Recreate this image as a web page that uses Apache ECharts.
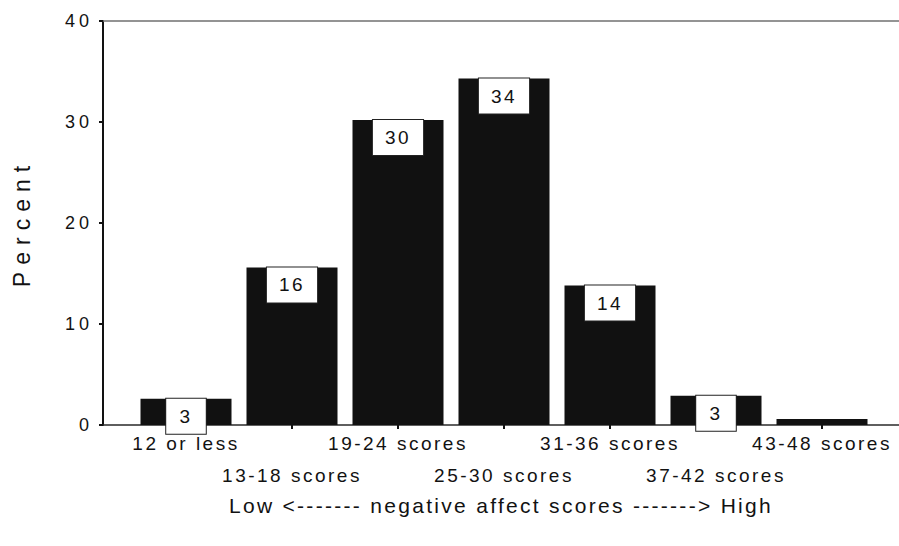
<!DOCTYPE html>
<html>
<head>
<meta charset="utf-8">
<script src="https://cdn.jsdelivr.net/npm/echarts@6/dist/echarts.min.js"></script>
<style>
  html, body { margin: 0; padding: 0; background: #fff; }
  #chart { width: 899px; height: 546px; }
  /* the typeface of this figure is set wide */
  #chart text { letter-spacing: 2.5px; }
</style>
</head>
<body>
<div id="chart"></div>
<script>
// Score bands of the negative affect scale
const categories = ['12 or less', '13-18 scores', '19-24 scores', '25-30 scores',
                    '31-36 scores', '37-42 scores', '43-48 scores'];
// Share of respondents in each band (%)
const percents = [2.6, 15.6, 30.2, 34.3, 13.8, 2.9, 0.6];
// Value axis range and step
const yRange = [0, 40];
const yStep = 10;
const yAxisTitle = 'Percent';
const xAxisTitle = 'Low <------- negative affect scores -------> High';

const font = '"Liberation Sans", Arial, sans-serif';
const ink = '#121212';

const chart = echarts.init(document.getElementById('chart'), null, { renderer: 'svg' });

chart.setOption({
  animation: false,
  backgroundColor: '#ffffff',
  textStyle: { fontFamily: font, color: ink },
  grid: [
    // frame: y axis, baseline and top rule
    { left: 103, right: 0, top: 21, bottom: 121 },
    // bars
    { left: 133, right: 24, top: 21, bottom: 121 }
  ],
  xAxis: [
    {
      gridIndex: 0, type: 'value', min: 0, max: 1, position: 'bottom',
      axisLine: { show: true, lineStyle: { color: '#2a2a2a', width: 1.5 } },
      axisTick: { show: false }, axisLabel: { show: false }, splitLine: { show: false },
      name: xAxisTitle, nameLocation: 'middle', nameGap: 70,
      nameTextStyle: { fontSize: 21, color: ink, fontFamily: font }
    },
    {
      gridIndex: 0, type: 'value', min: 0, max: 1, position: 'top',
      axisLine: { show: true, lineStyle: { color: '#707070', width: 1.5 } },
      axisTick: { show: false }, axisLabel: { show: false }, splitLine: { show: false }
    },
    {
      gridIndex: 1, type: 'category', data: categories, position: 'bottom',
      axisLine: { show: false },
      axisTick: { show: true, alignWithLabel: true, length: 4, lineStyle: { color: ink, width: 2 } },
      axisLabel: {
        interval: 0, margin: 3, lineHeight: 31.5, fontSize: 19, color: ink, fontFamily: font,
        // alternate bands drop to a second row
        formatter: (v, i) => (i % 2 ? '\n' + v : v)
      },
      splitLine: { show: false }
    }
  ],
  yAxis: [
    {
      gridIndex: 0, type: 'value', min: yRange[0], max: yRange[1], interval: yStep,
      axisLine: { show: true, lineStyle: { color: ink, width: 2 } },
      axisTick: { show: true, length: 4, lineStyle: { color: ink, width: 2 } },
      axisLabel: { margin: 10, fontSize: 18, color: ink, fontFamily: font },
      splitLine: { show: false },
      name: yAxisTitle, nameLocation: 'middle', nameGap: 70, nameRotate: 90,
      nameTextStyle: { fontSize: 23, color: ink, fontFamily: font }
    },
    {
      gridIndex: 1, type: 'value', min: yRange[0], max: yRange[1], interval: yStep, show: false
    }
  ],
  series: [{
    type: 'bar',
    xAxisIndex: 2, yAxisIndex: 1,
    barWidth: 91,
    itemStyle: { color: '#111111' },
    label: {
      show: true, position: 'insideTop', distance: 0,
      formatter: p => String(Math.round(p.value)),
      backgroundColor: '#ffffff', borderColor: '#222222', borderWidth: 1,
      padding: [8, 14.5], fontSize: 19, color: ink, fontFamily: font
    },
    data: percents.map(v => ({ value: v, label: { show: v >= 1 } }))
  }]
});

// per-text spacing: axis titles and tick numbers
function spaceTexts() {
  document.querySelectorAll('#chart text').forEach(t => {
    const s = t.textContent;
    if (s === yAxisTitle) t.style.letterSpacing = '7px';
    else if (s === xAxisTitle) t.style.letterSpacing = '2.3px';
    else if (t.getAttribute('text-anchor') === 'end') t.style.letterSpacing = '4px';
  });
}
spaceTexts();
chart.on('finished', spaceTexts);
</script>
</body>
</html>
